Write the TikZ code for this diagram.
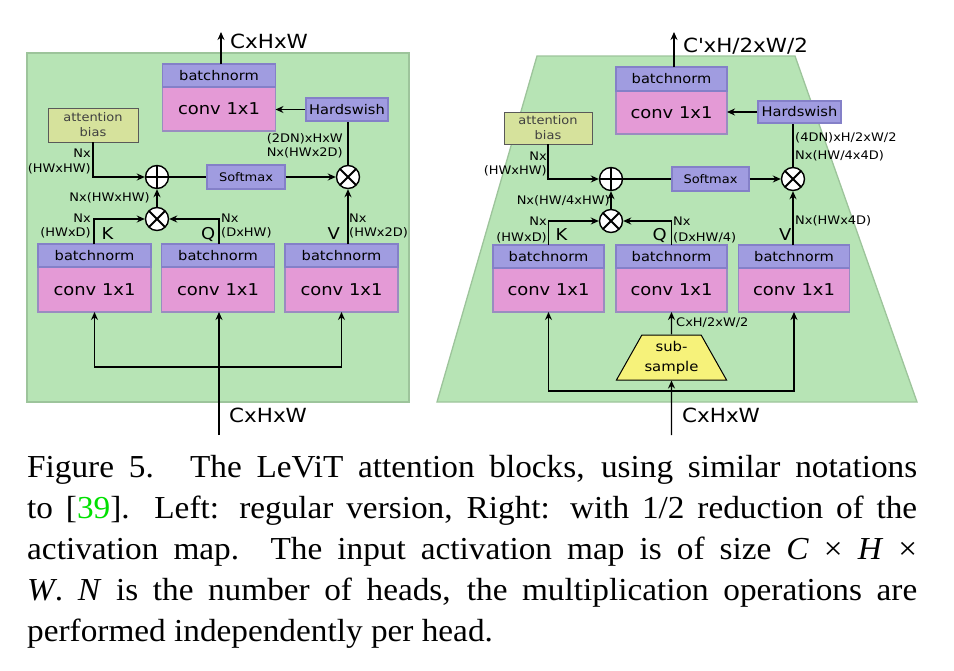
\documentclass[tikz,border=0pt]{standalone}
\usepackage{fontspec}
\setmainfont{DejaVu Sans}[FakeStretch=1.1]
\newfontfamily\capfont{Liberation Serif}[FakeStretch=1.04]
\usetikzlibrary{arrows.meta,positioning,shapes.geometric}
\definecolor{bgfill}{HTML}{B7E4B5}
\definecolor{bgline}{HTML}{9DC49B}
\definecolor{bnfill}{HTML}{A09CE0}
\definecolor{bnline}{HTML}{8480C8}
\definecolor{convfill}{HTML}{E49AD6}
\definecolor{convline}{HTML}{9A8CC0}
\definecolor{biasfill}{HTML}{D6E29C}
\definecolor{subfill}{HTML}{F6F27A}
\definecolor{citegreen}{HTML}{00E000}

\begin{document}
\begin{tikzpicture}[x=1pt,y=-1pt,
	arr/.style={-{Stealth[length=8pt,width=7pt]}},
	wire/.style={line width=1.4pt},
	bn/.style={draw=bnline,fill=bnfill,line width=1.3pt,outer sep=0pt,inner sep=0pt,
		minimum height=23pt,font=\fontsize{13.3}{15}\selectfont},
	conv/.style={draw=convline,fill=convfill,line width=1.3pt,outer sep=0pt,inner sep=0pt,
		minimum height=45pt,font=\fontsize{16.3}{18}\selectfont},
	opbox/.style={draw=bnline,fill=bnfill,line width=1.3pt,inner sep=0pt},
	bias/.style={draw=black!65,fill=biasfill,line width=0.9pt,inner sep=0pt,align=center,
		text=black!75,font=\fontsize{11.8}{15}\selectfont},
	op/.style={circle,draw,fill=white,line width=1.4pt,minimum size=23pt,inner sep=0pt},
	plus/.style={op,path picture={\draw[line width=2pt]
		(path picture bounding box.north) -- (path picture bounding box.south)
		(path picture bounding box.west) -- (path picture bounding box.east);}},
	times/.style={op,path picture={\draw[line width=2pt]
		(path picture bounding box.north west) -- (path picture bounding box.south east)
		(path picture bounding box.north east) -- (path picture bounding box.south west);}},
	lbl/.style={inner sep=0pt,font=\fontsize{11.8}{13}\selectfont},
	letter/.style={inner sep=0pt,font=\fontsize{16.3}{18}\selectfont},
	io/.style={inner sep=0pt,font=\fontsize{19.5}{21}\selectfont},
	capline/.style={inner sep=0pt,font=\capfont\fontsize{32}{41}\selectfont}]
\useasboundingbox (0,0) rectangle (954,670);

% left: regular block
\draw[bgline,fill=bgfill,line width=1.3pt] (27,53) rectangle (409,402);

\node[conv,minimum width=113pt] (convK) at (94.5,289.5) {conv 1x1};
\node[bn,minimum width=113pt,above=0pt of convK] (bnK) {batchnorm};
\node[conv,minimum width=113pt] (convQ) at (218,289.5) {conv 1x1};
\node[bn,minimum width=113pt,above=0pt of convQ] (bnQ) {batchnorm};
\node[conv,minimum width=113pt] (convV) at (341.5,289.5) {conv 1x1};
\node[bn,minimum width=113pt,above=0pt of convV] (bnV) {batchnorm};
\node[conv,minimum width=113pt,minimum height=44pt] (convT) at (219,109) {conv 1x1};
\node[bn,minimum width=113pt,above=0pt of convT] (bnT) {batchnorm};

\node[opbox,minimum width=82pt,minimum height=23pt,font=\fontsize{13.3}{15}\selectfont] (hsL) at (347,109.5) {Hardswish};
\node[opbox,minimum width=78pt,minimum height=24pt,font=\fontsize{11.8}{13}\selectfont] (smL) at (246,177) {Softmax};
\node[bias,minimum width=90pt,minimum height=34pt] (biasL) at (93,125) {attention\\bias};
\node[plus] (plusL) at (157,177) {};
\node[times] (mulL) at (348,177) {};
\node[times] (qkL) at (157,219) {};

\coordinate (outL) at (221,32);
\coordinate (inL) at (219,435);
\coordinate (splitL) at (219,367);

\draw[wire,arr] (bnT.north -| outL) -- (outL);
\draw[wire,arr] (hsL.west) -- (hsL.west -| convT.east);
\draw[wire,arr] (biasL.south) |- (plusL.west);
\draw[wire] (plusL.east) -- (smL.west);
\draw[wire,arr] (smL.east) -- (mulL.west);
\draw[wire] (mulL.north) -- (hsL.south -| mulL.north);
\draw[wire,arr] (qkL.north) -- (plusL.south);
\draw[wire,arr] (bnK.north -| 94,0) |- (qkL.west);
\draw[wire,arr] (bnQ.north -| 219,0) |- (qkL.east);
\draw[wire,arr] (bnV.north -| mulL.south) -- (mulL.south);
\draw[wire,arr] (inL) -- (inL |- convQ.south);
\draw[wire,arr] (splitL) -| (convK.south);
\draw[wire,arr] (splitL) -| (convV.south);

\node[io,anchor=west] (outLtxt) at (230,41) {CxHxW};
\node[io,anchor=west] (inLtxt) at (229,415) {CxHxW};
\node[lbl,anchor=east] (biasLn) at (91,153) {Nx};
\node[lbl,anchor=east] (biasLd) at (91,169) {(HWxHW)};
\node[lbl,anchor=east] (attL) at (150,198) {Nx(HWxHW)};
\node[lbl,anchor=east] (hsLa) at (343,139) {(2DN)xHxW};
\node[lbl,anchor=east] (hsLb) at (343,153) {Nx(HWx2D)};
\node[lbl,anchor=east] (kLn) at (91,218) {Nx};
\node[lbl,anchor=east] (kLd) at (91,233) {(HWxD)};
\node[lbl,anchor=west] (qLn) at (221,218) {Nx};
\node[lbl,anchor=west] (qLd) at (221,233) {(DxHW)};
\node[lbl,anchor=west] (vLn) at (349,218) {Nx};
\node[lbl,anchor=west] (vLd) at (349,233) {(HWx2D)};
\node[letter,anchor=west] (kL) at (101.5,234) {K};
\node[letter,anchor=east] (qL) at (215.5,234) {Q};
\node[letter,anchor=east] (vL) at (340,234) {V};

% right: block with subsampling
\draw[bgline,fill=bgfill,line width=1.3pt] (537,56) -- (795,56) -- (917,402) -- (437,402) -- cycle;

\node[conv,minimum width=111pt,minimum height=44pt] (convK2) at (548.5,290) {conv 1x1};
\node[bn,minimum width=111pt,above=0pt of convK2] (bnK2) {batchnorm};
\node[conv,minimum width=111pt,minimum height=44pt] (convQ2) at (671.5,290) {conv 1x1};
\node[bn,minimum width=111pt,above=0pt of convQ2] (bnQ2) {batchnorm};
\node[conv,minimum width=111pt,minimum height=44pt] (convV2) at (794,290) {conv 1x1};
\node[bn,minimum width=111pt,above=0pt of convV2] (bnV2) {batchnorm};
\node[conv,minimum width=111pt,minimum height=43pt] (convT2) at (671.5,112.5) {conv 1x1};
\node[bn,minimum width=111pt,minimum height=24pt,above=0pt of convT2] (bnT2) {batchnorm};

\node[opbox,minimum width=83pt,minimum height=22pt,font=\fontsize{13.3}{15}\selectfont] (hsR) at (799.5,112) {Hardswish};
\node[opbox,minimum width=77pt,minimum height=24pt,font=\fontsize{11.8}{13}\selectfont] (smR) at (710.5,179) {Softmax};
\node[bias,minimum width=88pt,minimum height=32pt] (biasR) at (548,128) {attention\\bias};
\node[plus] (plusR) at (611,179) {};
\node[times] (mulR) at (793,179) {};
\node[times] (qkR) at (611,221) {};
\node[trapezium,trapezium stretches=true,trapezium left angle=55,trapezium right angle=55,
	minimum width=111pt,minimum height=45pt,inner sep=0pt,draw,fill=subfill,line width=1pt,
	align=center,font=\fontsize{13.5}{20}\selectfont] (sub) at (671.5,357.5) {sub-\\sample};

\coordinate (outR) at (674,32);
\coordinate (inR) at (671.5,435);
\coordinate (splitR) at (671.5,391);

\draw[wire,arr] (bnT2.north -| outR) -- (outR);
\draw[wire,arr] (hsR.west) -- (hsR.west -| convT2.east);
\draw[wire,arr] (biasR.south) |- (plusR.west);
\draw[wire] (plusR.east) -- (smR.west);
\draw[wire,arr] (smR.east) -- (mulR.west);
\draw[wire] (mulR.north) -- (hsR.south -| mulR.north);
\draw[wire,arr] (qkR.north) -- (plusR.south);
\draw[wire,arr] (bnK2.north) |- (qkR.west);
\draw[wire,arr] (bnQ2.north) |- (qkR.east);
\draw[wire,arr] (bnV2.north -| mulR.south) -- (mulR.south);
\draw[wire,arr] (inR) -- (sub.south);
\draw[wire,arr] (sub.north) -- (convQ2.south);
\draw[wire,arr] (splitR) -| (convK2.south);
\draw[wire,arr] (splitR) -| (convV2.south);

\node[io,anchor=west] (outRtxt) at (683,46) {C\textquotesingle xH/2xW/2};
\node[io,anchor=west] (inRtxt) at (682,415) {CxHxW};
\node[lbl,anchor=west] (subtxt) at (676,323) {CxH/2xW/2};
\node[lbl,anchor=east] (biasRn) at (547,156) {Nx};
\node[lbl,anchor=east] (biasRd) at (547,171) {(HWxHW)};
\node[lbl,anchor=east] (attR) at (610,201) {Nx(HW/4xHW)};
\node[lbl,anchor=west] (hsRa) at (795,138) {(4DN)xH/2xW/2};
\node[lbl,anchor=west] (hsRb) at (795,156) {Nx(HW/4x4D)};
\node[lbl,anchor=east] (kRn) at (547,221) {Nx};
\node[lbl,anchor=east] (kRd) at (547,238) {(HWxD)};
\node[lbl,anchor=west] (qRn) at (673,221) {Nx};
\node[lbl,anchor=west] (qRd) at (673,238) {(DxHW/4)};
\node[lbl,anchor=west] (vRn) at (795,221) {Nx(HWx4D)};
\node[letter,anchor=west] (kR) at (555.5,235) {K};
\node[letter,anchor=east] (qR) at (667,235) {Q};
\node[letter,anchor=east] (vR) at (791.5,235) {V};

% caption
\node[capline,anchor=base west] (cap1) at (27,477) {\makebox[890pt][s]{Figure 5.\hskip 30pt plus 4pt The LeViT attention blocks, using similar notations}};
\node[capline,anchor=base west] (cap2) at (27,518) {\makebox[890pt][s]{to [\textcolor{citegreen}{39}]. Left: regular version, Right: with 1/2 reduction of the}};
\node[capline,anchor=base west] (cap3) at (27,559) {\makebox[890pt][s]{activation map. The input activation map is of size \textit{C} × \textit{H} ×}};
\node[capline,anchor=base west] (cap4) at (27,600) {\makebox[890pt][s]{\textit{W}. \textit{N} is the number of heads, the multiplication operations are}};
\node[capline,anchor=base west] (cap5) at (27,641) {performed independently per head.};
\end{tikzpicture}
\end{document}
